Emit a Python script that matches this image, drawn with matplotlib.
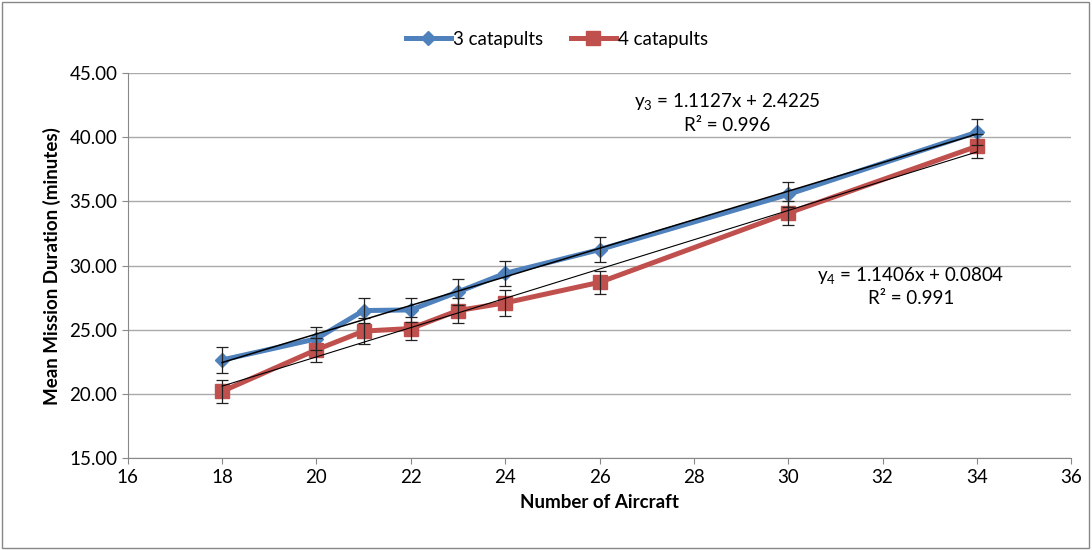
import numpy as np
import matplotlib
matplotlib.use("Agg")
import matplotlib.pyplot as plt
from matplotlib.patches import Rectangle

plt.rcParams['font.family'] = ['Lato', 'DejaVu Sans']
plt.rcParams['mathtext.fontset'] = 'custom'
plt.rcParams['mathtext.rm'] = 'Lato'
plt.rcParams['mathtext.it'] = 'Lato'

# data
aircraft = [18, 20, 21, 22, 23, 24, 26, 30, 34]
cat3 = [22.65, 24.3, 26.5, 26.55, 27.95, 29.4, 31.25, 35.55, 40.4]
cat3_err = [1.0, 0.9, 1.0, 0.95, 1.0, 1.0, 1.0, 1.0, 1.0]
cat4 = [20.2, 23.45, 24.9, 25.1, 26.5, 27.1, 28.7, 34.1, 39.3]
cat4_err = [0.9, 0.95, 1.0, 0.9, 0.95, 1.0, 0.9, 0.95, 0.95]
fit3 = (1.1127, 2.4225)
fit4 = (1.1406, 0.0804)

blue = '#4F81BD'
red = '#C0504D'

fig = plt.figure(figsize=(10.92, 5.5), dpi=100)
ax = fig.add_axes([0.117, 0.167, 0.864, 0.70])

ax.plot(aircraft, cat3, color=blue, lw=3.6, marker='D', ms=7.5, label='3 catapults', zorder=3)
ax.plot(aircraft, cat4, color=red, lw=3.6, marker='s', ms=10.5, label='4 catapults', zorder=3)
ax.errorbar(aircraft, cat3, yerr=cat3_err, fmt='none', ecolor='#222222', elinewidth=0.9, capsize=4, capthick=0.9, zorder=4)
ax.errorbar(aircraft, cat4, yerr=cat4_err, fmt='none', ecolor='#222222', elinewidth=0.9, capsize=4, capthick=0.9, zorder=4)

# linear trendlines
xs = np.array([aircraft[0], aircraft[-1]])
ax.plot(xs, fit3[0] * xs + fit3[1], color='black', lw=1.1, zorder=5)
ax.plot(xs, fit4[0] * xs + fit4[1], color='black', lw=0.8, zorder=5)

fs = 13.5
ax.text(28.7, 42.8, 'y$_3$ = 1.1127x + 2.4225', ha='center', va='center', fontsize=fs)
ax.text(28.7, 40.9, 'R² = 0.996', ha='center', va='center', fontsize=fs)
ax.text(32.6, 29.25, 'y$_4$ = 1.1406x + 0.0804', ha='center', va='center', fontsize=fs)
ax.text(32.6, 27.45, 'R² = 0.991', ha='center', va='center', fontsize=fs)

ax.set_xlim(16, 36)
ax.set_ylim(15, 45)
ax.set_xticks(range(16, 37, 2))
ax.set_yticks(range(15, 46, 5))
ax.set_yticklabels([f'{v:.2f}' for v in range(15, 46, 5)])
ax.tick_params(labelsize=fs, length=4, color='#888888')
ax.yaxis.grid(True, color='#AAAAAA', lw=1)
ax.set_axisbelow(True)
for s in ['top', 'right']:
    ax.spines[s].set_visible(False)
for s in ['left', 'bottom']:
    ax.spines[s].set_color('#888888')

ax.set_xlabel('Number of Aircraft', fontsize=fs, fontweight='bold', labelpad=6)
ax.set_ylabel('Mean Mission Duration (minutes)', fontsize=fs, fontweight='bold', labelpad=6)

fig.legend(loc='upper center', bbox_to_anchor=(0.51, 0.975), ncol=2, frameon=False,
           fontsize=fs, handlelength=2.4, handletextpad=0.1, columnspacing=1.5)

fig.patches.append(Rectangle((0.002, 0.004), 0.995, 0.992, transform=fig.transFigure,
                             fill=False, edgecolor='#888888', lw=1))

fig.savefig('out.png', dpi=100)
